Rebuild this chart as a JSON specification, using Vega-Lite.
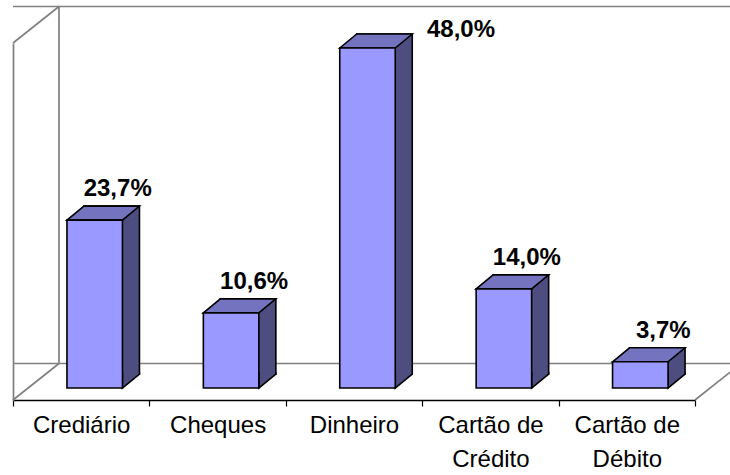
{
  "$schema": "https://vega.github.io/schema/vega-lite/v6.json",
  "width": 682,
  "height": 357,
  "autosize": "none",
  "padding": {"left": 13, "top": 43, "right": 35, "bottom": 75},
  "background": "white",
  "config": {
    "view": {"stroke": null},
    "locale": {"number": {"decimal": ",", "thousands": ".", "grouping": [3], "currency": ["R$", ""]}}
  },
  "data": {
    "values": [
      {"forma": "Crediário", "pct": 0.237},
      {"forma": "Cheques", "pct": 0.106},
      {"forma": "Dinheiro", "pct": 0.48},
      {"forma": "Cartão de Crédito", "pct": 0.14},
      {"forma": "Cartão de Débito", "pct": 0.037}
    ]
  },
  "encoding": {
    "x": {
      "field": "forma", "type": "nominal", "sort": null,
      "scale": {"domain": ["Crediário", "Cheques", "Dinheiro", "Cartão de Crédito", "Cartão de Débito"], "paddingInner": 0, "paddingOuter": 0},
      "axis": {
        "title": null, "domainColor": "black", "domainWidth": 1.5,
        "tickColor": "black", "tickWidth": 1.2, "tickSize": 6, "tickBand": "extent",
        "labelAngle": 0, "labelFont": "Liberation Sans", "labelFontSize": 24, "labelColor": "black",
        "labelPadding": 7, "labelLineHeight": 34, "labelLimit": 0,
        "labelExpr": "datum.value == 'Cartão de Crédito' ? ['Cartão de', 'Crédito'] : datum.value == 'Cartão de Débito' ? ['Cartão de', 'Débito'] : datum.value"
      }
    }
  },
  "layer": [
    {
      "transform": [{"aggregate": [{"op": "count", "as": "n"}]}],
      "layer": [
        {
          "mark": {"type": "rule", "color": "#808080", "strokeWidth": 1.7, "xOffset": 46, "x2Offset": 46, "yOffset": -36.5, "y2Offset": -36.5},
          "encoding": {"x": null, "y": {"datum": 0.504, "type": "quantitative", "scale": {"domain": [0, 0.504], "nice": false, "zero": true}, "axis": {"title": null, "labels": false, "ticks": false, "grid": false, "domainColor": "#808080", "domainWidth": 1.7}}}
        },
        {
          "mark": {"type": "rule", "color": "#808080", "strokeWidth": 1.7, "xOffset": 46, "x2Offset": 46, "yOffset": -36.5, "y2Offset": -36.5},
          "encoding": {"x": null, "y": {"datum": 0, "type": "quantitative"}}
        },
        {
          "mark": {"type": "rule", "color": "#808080", "strokeWidth": 1.7, "xOffset": 46, "yOffset": -36.5, "y2Offset": -36.5},
          "encoding": {"x": {"datum": "Crediário", "bandPosition": 0}, "y": {"datum": 0, "type": "quantitative"}, "y2": {"datum": 0.504}}
        },
        {
          "mark": {"type": "rule", "color": "#808080", "strokeWidth": 1.7, "x2Offset": 46, "y2Offset": -36.5},
          "encoding": {"x": {"datum": "Crediário", "bandPosition": 0}, "x2": {"datum": "Crediário", "bandPosition": 0}, "y": {"datum": 0.504, "type": "quantitative"}, "y2": {"datum": 0.504}}
        },
        {
          "mark": {"type": "rule", "color": "#808080", "strokeWidth": 1.7, "x2Offset": 46, "y2Offset": -36.5},
          "encoding": {"x": {"datum": "Crediário", "bandPosition": 0}, "x2": {"datum": "Crediário", "bandPosition": 0}, "y": {"datum": 0, "type": "quantitative"}, "y2": {"datum": 0}}
        },
        {
          "mark": {"type": "rule", "color": "#808080", "strokeWidth": 1.7, "x2Offset": 46, "y2Offset": -36.5},
          "encoding": {"x": {"datum": "Cartão de Débito", "bandPosition": 1}, "x2": {"datum": "Cartão de Débito", "bandPosition": 1}, "y": {"datum": 0, "type": "quantitative"}, "y2": {"datum": 0}}
        }
      ]
    },
    {
      "mark": {"type": "bar", "width": 55.5, "xOffset": 30.5, "yOffset": -26, "y2Offset": -26, "fill": "#4D4D80", "stroke": "black", "strokeWidth": 1.6},
      "encoding": {"y": {"field": "pct", "type": "quantitative"}}
    },
    {
      "mark": {"type": "point", "shape": "M27.75,-16L27.75,0L44.75,-14L44.75,-16", "size": 4, "filled": true, "fill": "#4D4D80", "stroke": "black", "strokeWidth": 1.6, "opacity": 1, "xOffset": 13.5, "yOffset": -12},
      "encoding": {"y": {"datum": 0, "type": "quantitative"}}
    },
    {
      "mark": {"type": "point", "shape": "M-27.75,0L-10.75,-14L44.75,-14L27.75,0Z", "size": 4, "filled": true, "fill": "#7373BF", "stroke": "black", "strokeWidth": 1.6, "opacity": 1, "xOffset": 13.5, "yOffset": -12},
      "encoding": {"y": {"field": "pct", "type": "quantitative"}}
    },
    {
      "mark": {"type": "bar", "width": 55.5, "xOffset": 13.5, "yOffset": -12, "y2Offset": -12, "fill": "#9999FF", "stroke": "black", "strokeWidth": 1.6},
      "encoding": {"y": {"field": "pct", "type": "quantitative"}}
    },
    {
      "transform": [{"filter": "datum.pct < 0.4"}],
      "mark": {"type": "text", "font": "Liberation Sans", "fontWeight": "bold", "fontSize": 24, "color": "black", "baseline": "alphabetic", "align": "center", "dx": 36.5, "dy": -36},
      "encoding": {"y": {"field": "pct", "type": "quantitative"}, "text": {"field": "pct", "type": "quantitative", "format": ".1%"}}
    },
    {
      "transform": [{"filter": "datum.pct >= 0.4"}],
      "mark": {"type": "text", "font": "Liberation Sans", "fontWeight": "bold", "fontSize": 24, "color": "black", "baseline": "alphabetic", "align": "center", "dx": 107, "dy": -23.3},
      "encoding": {"y": {"field": "pct", "type": "quantitative"}, "text": {"field": "pct", "type": "quantitative", "format": ".1%"}}
    }
  ]
}
